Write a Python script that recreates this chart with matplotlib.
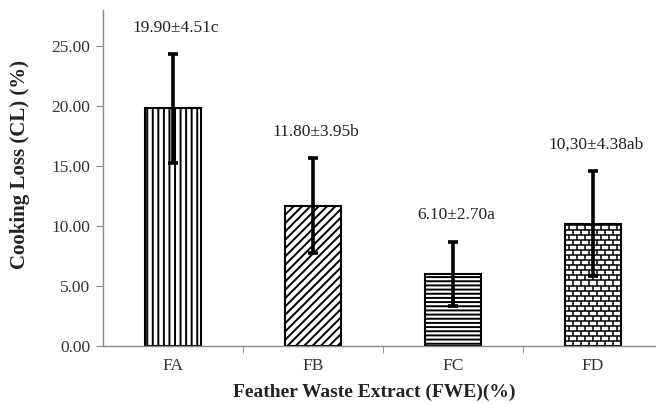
import numpy as np
import matplotlib
matplotlib.use("Agg")
import matplotlib.pyplot as plt
from matplotlib.collections import LineCollection

plt.rcParams['font.family'] = ['Liberation Serif', 'DejaVu Serif']
plt.rcParams['hatch.linewidth'] = 1.4

# data
categories = ["FA", "FB", "FC", "FD"]
means = [19.8, 11.7, 6.0, 10.2]
errors = [4.51, 3.95, 2.70, 4.38]
labels = ["19.90\u00b14.51c", "11.80\u00b13.95b", "6.10\u00b12.70a", "10,30\u00b14.38ab"]
hatches = ["|||", "////", "----", None]

fig = plt.figure(figsize=(6.56, 4.04), dpi=100)
ax = fig.add_axes([103 / 656, 58 / 404, 560 / 656, 336 / 404])

x = np.arange(len(categories))
bars = ax.bar(x, means, width=0.4, color="white", edgecolor="black",
              linewidth=1.5, zorder=2)
for b, h in zip(bars, hatches):
    if h:
        b.set_hatch(h)

# brick pattern for FD
fd = bars[3]
x0, w = fd.get_x(), fd.get_width()
top = fd.get_height()
row_h = 0.42
brick_w = w / 7
segs = []
yy = 0.0
row = 0
while yy < top:
    segs.append([(x0, yy), (x0 + w, yy)])
    off = 0 if row % 2 == 0 else brick_w / 2
    xv = x0 + off
    while xv < x0 + w:
        segs.append([(xv, yy), (xv, min(yy + row_h, top))])
        xv += brick_w
    yy += row_h
    row += 1
lc = LineCollection(segs, colors="black", linewidths=1.1, zorder=2.5)
ax.add_collection(lc)
lc.set_clip_path(fd)

ax.errorbar(x, means, yerr=errors, fmt="none", ecolor="black",
            elinewidth=2.6, capsize=3.5, capthick=2.6, zorder=3)

for xi, m, e, t in zip(x, means, errors, labels):
    ax.annotate(t, (xi, m + e), xytext=(2, 19), textcoords="offset points",
                ha="center", va="center", fontsize=12.5, color="#222222")

ax.set_xlim(-0.5, 3.5)
ax.set_ylim(0, 28)
ax.set_yticks(np.arange(0, 26, 5))
ax.set_yticklabels([f"{v:.2f}" for v in np.arange(0, 26, 5)])
ax.set_xticks(x)
ax.set_xticklabels(categories)
ax.set_xticks([0.5, 1.5, 2.5], minor=True)
ax.tick_params(axis="x", which="major", length=0, pad=9, labelsize=12.5,
               labelcolor="#333333")
ax.tick_params(axis="x", which="minor", length=5, color="#888888")
ax.tick_params(axis="y", length=5, color="#888888", labelsize=12.5,
               labelcolor="#333333", pad=4)

for s in ["top", "right"]:
    ax.spines[s].set_visible(False)
for s in ["left", "bottom"]:
    ax.spines[s].set_color("#888888")
    ax.spines[s].set_linewidth(1.0)

ax.set_xlabel("Feather Waste Extract (FWE)(%)", fontsize=14, fontweight="bold",
              color="#222222")
ax.xaxis.set_label_coords(0.484, -0.137)
ax.set_ylabel("Cooking Loss (CL) (%)", fontsize=15, fontweight="bold",
              color="#222222")
ax.yaxis.set_label_coords(-0.148, 0.539)
ax.xaxis.label.set_va("center")
ax.yaxis.label.set_va("center")

fig.savefig("out.png", dpi=100)
